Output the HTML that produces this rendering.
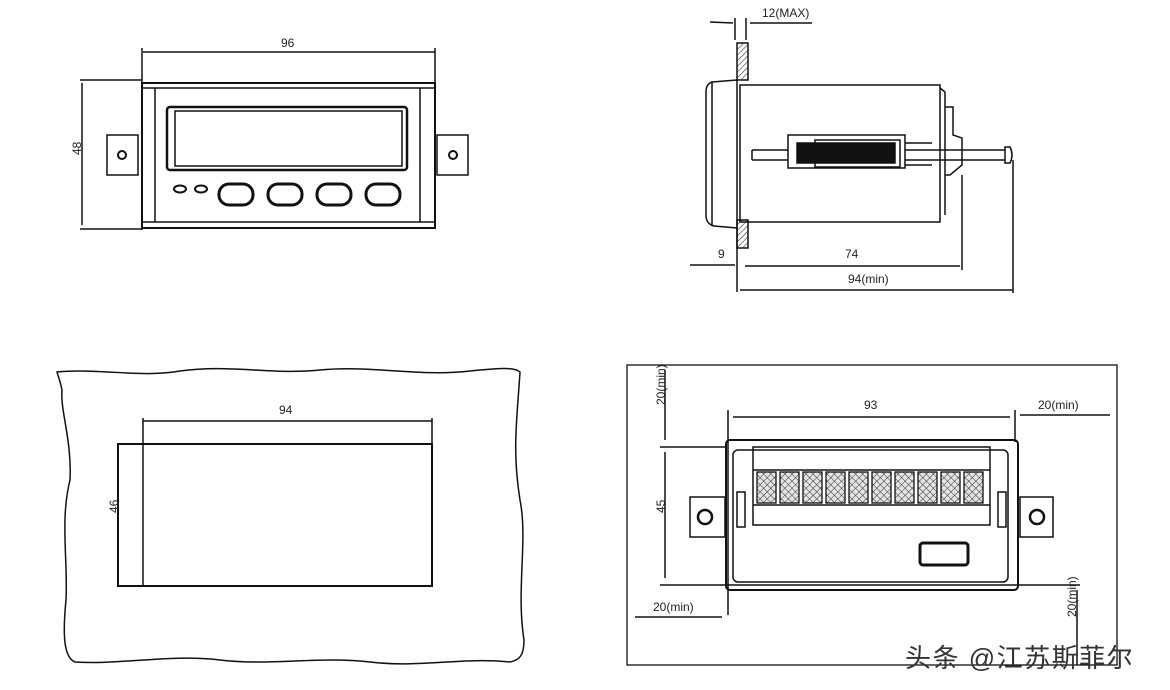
<!DOCTYPE html>
<html><head><meta charset="utf-8"><style>body{margin:0;background:#fff}svg{display:block}text{font-family:"Liberation Sans","Noto Sans CJK SC",sans-serif;fill:#222}</style></head>
<body>
<svg width="1170" height="690" viewBox="0 0 1170 690" xmlns="http://www.w3.org/2000/svg">
<defs>
<pattern id="h" width="4" height="4" patternUnits="userSpaceOnUse" patternTransform="rotate(45)"><line x1="0" y1="0" x2="0" y2="4" stroke="#333" stroke-width="1.2"/></pattern>
<pattern id="x" width="5" height="5" patternUnits="userSpaceOnUse" patternTransform="rotate(45)"><rect width="5" height="5" fill="#e4e4e4"/><line x1="0" y1="0" x2="0" y2="5" stroke="#333" stroke-width="1"/><line x1="0" y1="0" x2="5" y2="0" stroke="#333" stroke-width="1"/></pattern>
</defs>
<g fill="none" stroke="#111" stroke-width="1.5">
<line x1="143" y1="52" x2="435" y2="52"/>
<line x1="142" y1="48" x2="142" y2="230"/>
<line x1="435" y1="48" x2="435" y2="84"/>
<rect x="142" y="83" width="293" height="145" stroke-width="2"/>
<line x1="142" y1="88" x2="435" y2="88"/>
<line x1="142" y1="222" x2="435" y2="222"/>
<line x1="155" y1="88" x2="155" y2="222"/>
<line x1="420" y1="88" x2="420" y2="222"/>
<rect x="167" y="107" width="240" height="63" rx="3" stroke-width="2.5"/>
<rect x="175" y="111" width="227" height="55"/>
<rect x="107" y="135" width="31" height="40"/>
<circle cx="122" cy="155" r="4" stroke-width="2"/>
<rect x="437" y="135" width="31" height="40"/>
<circle cx="453" cy="155" r="4" stroke-width="2"/>
<line x1="80" y1="80" x2="142" y2="80"/>
<line x1="80" y1="229" x2="142" y2="229"/>
<line x1="82" y1="83" x2="82" y2="225"/>
<ellipse cx="180" cy="189" rx="6" ry="3.5" stroke-width="2"/>
<ellipse cx="201" cy="189" rx="6" ry="3.5" stroke-width="2"/>
<rect x="219" y="184" width="34" height="21" rx="10" stroke-width="3"/>
<rect x="268" y="184" width="34" height="21" rx="10" stroke-width="3"/>
<rect x="317" y="184" width="34" height="21" rx="10" stroke-width="3"/>
<rect x="366" y="184" width="34" height="21" rx="10" stroke-width="3"/>

<rect x="737" y="43" width="11" height="37" fill="url(#h)"/>
<rect x="737" y="220" width="11" height="28" fill="url(#h)"/>
<path d="M737 80 L712 82 Q706 84 706 92 L706 215 Q706 224 714 226 L737 228"/>
<line x1="712" y1="82" x2="712" y2="226"/>
<line x1="737" y1="80" x2="737" y2="292"/>
<rect x="740" y="85" width="200" height="137"/>
<line x1="940" y1="88" x2="945" y2="92"/><line x1="945" y1="92" x2="945" y2="215"/>
<path d="M945 107 L953 107 L953 135 L962 138 L962 165 L950 175 L945 175"/>
<line x1="752" y1="150" x2="1005" y2="150"/><line x1="752" y1="160" x2="1005" y2="160"/><line x1="752" y1="150" x2="752" y2="160"/>
<path d="M1005 147 L1010 147 Q1014 155 1010 163 L1005 163 Z"/>
<rect x="788" y="135" width="117" height="33" fill="#fff"/>
<rect x="797" y="143" width="98" height="20" fill="#111"/>
<rect x="815" y="140" width="85" height="27"/>
<line x1="905" y1="143" x2="932" y2="143"/><line x1="905" y1="165" x2="932" y2="165"/>
<line x1="735" y1="18" x2="735" y2="40"/><line x1="746" y1="18" x2="746" y2="40"/>
<line x1="710" y1="22" x2="733" y2="23"/><line x1="750" y1="23" x2="812" y2="23"/>
<line x1="690" y1="265" x2="735" y2="265"/>
<line x1="745" y1="266" x2="960" y2="266"/>
<line x1="962" y1="175" x2="962" y2="270"/>
<line x1="1013" y1="160" x2="1013" y2="293"/>
<line x1="740" y1="290" x2="1013" y2="290"/>

<path d="M57 372 C100 368 140 378 180 371 C230 364 270 375 320 370 C370 365 420 377 470 371 C500 368 515 367 520 372 C517 420 512 450 520 500 C528 540 516 590 524 640 C524 655 520 660 510 662 C460 657 420 668 370 662 C320 656 270 666 220 660 C170 654 120 665 75 662 C65 658 62 640 66 600 C68 560 60 520 70 480 C72 440 60 410 62 390 C60 380 58 376 57 372 Z"/>
<rect x="118" y="444" width="314" height="142" stroke-width="2"/>
<line x1="143" y1="418" x2="143" y2="586"/>
<line x1="143" y1="421" x2="432" y2="421"/>
<line x1="432" y1="418" x2="432" y2="444"/>

<rect x="627" y="365" width="490" height="300" stroke-width="1.3"/>
<rect x="726" y="440" width="292" height="150" rx="4" stroke-width="2"/>
<rect x="733" y="450" width="275" height="132" rx="5" stroke-width="1.5"/>
<rect x="753" y="447" width="237" height="78"/>
<line x1="753" y1="470" x2="990" y2="470"/>
<line x1="753" y1="505" x2="990" y2="505"/>
<rect x="690" y="497" width="35" height="40"/>
<circle cx="705" cy="517" r="7" stroke-width="2.5"/>
<rect x="1020" y="497" width="33" height="40"/>
<circle cx="1037" cy="517" r="7" stroke-width="2.5"/>
<rect x="737" y="492" width="8" height="35"/>
<rect x="998" y="492" width="8" height="35"/>
<rect x="920" y="543" width="48" height="22" rx="3" stroke-width="3"/>
<line x1="728" y1="410" x2="728" y2="615"/>
<line x1="1015" y1="410" x2="1015" y2="442"/>
<line x1="733" y1="417" x2="1010" y2="417"/>
<line x1="1020" y1="415" x2="1110" y2="415"/>
<line x1="665" y1="370" x2="665" y2="440"/>
<line x1="665" y1="452" x2="665" y2="578"/>
<line x1="660" y1="447" x2="725" y2="447"/>
<line x1="660" y1="585" x2="1080" y2="585"/>
<line x1="635" y1="617" x2="722" y2="617"/>
<line x1="1077" y1="590" x2="1077" y2="665"/>
</g>
<g stroke="#111" stroke-width="1.3" fill="url(#x)">
<rect x="757" y="472" width="19" height="31"/><rect x="780" y="472" width="19" height="31"/><rect x="803" y="472" width="19" height="31"/><rect x="826" y="472" width="19" height="31"/><rect x="849" y="472" width="19" height="31"/><rect x="872" y="472" width="19" height="31"/><rect x="895" y="472" width="19" height="31"/><rect x="918" y="472" width="19" height="31"/><rect x="941" y="472" width="19" height="31"/><rect x="964" y="472" width="19" height="31"/>
</g>
<g font-size="12">
<text x="281" y="47">96</text>
<text x="76" y="160" transform="rotate(-90 76 155)">48</text>
<text x="762" y="17">12(MAX)</text>
<text x="718" y="258">9</text>
<text x="845" y="258">74</text>
<text x="848" y="283">94(min)</text>
<text x="279" y="414">94</text>
<text x="113" y="518" transform="rotate(-90 113 513)">46</text>
<text x="864" y="409">93</text>
<text x="1038" y="409">20(min)</text>
<text x="653" y="611">20(min)</text>
<text x="660" y="410" transform="rotate(-90 660 405)">20(min)</text>
<text x="660" y="518" transform="rotate(-90 660 513)">45</text>
<text x="1071" y="622" transform="rotate(-90 1071 617)">20(min)</text>
</g>
<text x="905" y="667" font-size="26" letter-spacing="1.5" style="fill:#333">头条 @江苏斯菲尔</text>
</svg>
</body></html>
